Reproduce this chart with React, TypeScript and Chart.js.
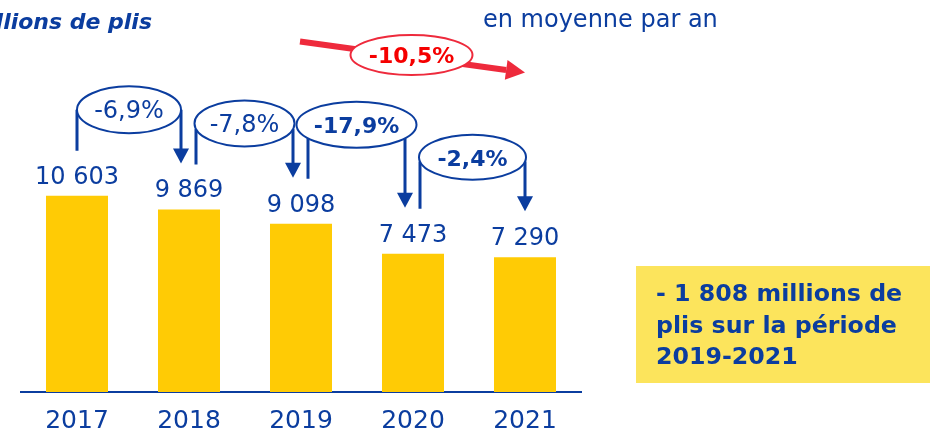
import React, { useEffect, useRef } from 'react';
import { Chart, registerables } from 'chart.js';

Chart.register(...registerables);

// ---- data ----
const years = ['2017', '2018', '2019', '2020', '2021'];
const volumes = [10603, 9869, 9098, 7473, 7290];
const changeLabels = ['-6,9%', '-7,8%', '-17,9%', '-2,4%'];
const changeBold = [false, false, true, true];
const averageLabel = '-10,5%';
const averageText = 'en moyenne par an';
const unitTitle = 'En millions de plis';
const boxLines = ['- 1 808 millions de', 'plis sur la période', '2019-2021'];

// ---- styles ----
const BLUE = '#0B3D9F';
const RED_LINE = '#EE2A3C';
const RED_TEXT = '#F50000';
const BAR = '#FFCB05';
const BOX = '#FCE45C';
const FONT = '"DejaVu Sans", sans-serif';

// annotation geometry (offsets relative to bar positions)
const arrowShiftLeft = [0, 7, 7, 7];
const arrowShiftRight = [-8, -8, -8, 0];
const ellipseRise = [86, 86, 99, 96.5];
const ellipseRx = [52, 50, 60, 53.5];
const ellipseRy = [23.5, 23, 23, 22.5];

const fmt = (v: number) => String(v).replace(/\B(?=(\d{3})+(?!\d))/g, ' ');

function arrowHeadDown(ctx: CanvasRenderingContext2D, x: number, tipY: number, w: number, h: number) {
  ctx.beginPath();
  ctx.moveTo(x - w / 2, tipY - h);
  ctx.lineTo(x + w / 2, tipY - h);
  ctx.lineTo(x, tipY);
  ctx.closePath();
  ctx.fill();
}

const annotationPlugin = {
  id: 'annotations',
  afterDraw(chart: any) {
    const ctx: CanvasRenderingContext2D = chart.ctx;
    const bars = chart.getDatasetMeta(0).data;
    ctx.save();

    // value labels
    ctx.fillStyle = BLUE;
    ctx.font = `24px ${FONT}`;
    ctx.textAlign = 'center';
    ctx.textBaseline = 'alphabetic';
    bars.forEach((b: any, i: number) => {
      ctx.fillText(fmt(volumes[i]), b.x, b.y - 12);
    });

    // blue change arrows
    for (let i = 0; i < changeLabels.length; i++) {
      const a = bars[i];
      const b = bars[i + 1];
      const lx = a.x + arrowShiftLeft[i];
      const rx = b.x + arrowShiftRight[i];
      const cx = (lx + rx) / 2;
      const cy = a.y - ellipseRise[i];
      const erx = ellipseRx[i];
      const ery = ellipseRy[i];
      const meet = (x: number) => {
        const t = (x - cx) / erx;
        return cy + ery * Math.sqrt(Math.max(0, 1 - t * t));
      };
      const leftBottom = a.y - 45;
      const tip = b.y - 46;
      ctx.strokeStyle = BLUE;
      ctx.fillStyle = BLUE;
      ctx.lineWidth = 3;
      ctx.beginPath();
      ctx.moveTo(lx, leftBottom);
      ctx.lineTo(lx, meet(lx));
      ctx.moveTo(rx, meet(rx));
      ctx.lineTo(rx, tip - 14);
      ctx.stroke();
      arrowHeadDown(ctx, rx, tip, 16, 15);

      ctx.beginPath();
      ctx.ellipse(cx, cy, erx, ery, 0, 0, Math.PI * 2);
      ctx.fillStyle = '#FFFFFF';
      ctx.fill();
      ctx.lineWidth = 2;
      ctx.strokeStyle = BLUE;
      ctx.stroke();

      ctx.fillStyle = BLUE;
      ctx.font = changeBold[i] ? `bold 22px ${FONT}` : `24px ${FONT}`;
      ctx.textAlign = 'center';
      ctx.textBaseline = 'alphabetic';
      ctx.fillText(changeLabels[i], cx, cy + 8.5);
    }

    // red average arrow
    const x0 = 300, y0 = 41.5, x1 = 525, y1 = 72.5;
    const ang = Math.atan2(y1 - y0, x1 - x0);
    const headLen = 19, headHalf = 10;
    const bx = x1 - headLen * Math.cos(ang);
    const by = y1 - headLen * Math.sin(ang);
    ctx.strokeStyle = RED_LINE;
    ctx.fillStyle = RED_LINE;
    ctx.lineWidth = 6;
    ctx.beginPath();
    ctx.moveTo(x0, y0);
    ctx.lineTo(bx, by);
    ctx.stroke();
    ctx.beginPath();
    ctx.moveTo(x1, y1);
    ctx.lineTo(bx + headHalf * Math.sin(ang), by - headHalf * Math.cos(ang));
    ctx.lineTo(bx - headHalf * Math.sin(ang), by + headHalf * Math.cos(ang));
    ctx.closePath();
    ctx.fill();
    ctx.beginPath();
    ctx.ellipse(411.5, 55, 61, 20, 0, 0, Math.PI * 2);
    ctx.fillStyle = '#FFFFFF';
    ctx.fill();
    ctx.lineWidth = 2;
    ctx.strokeStyle = RED_LINE;
    ctx.stroke();
    ctx.fillStyle = RED_TEXT;
    ctx.font = `bold 22px ${FONT}`;
    ctx.textAlign = 'center';
    ctx.fillText(averageLabel, 411.5, 63);

    // texts
    ctx.fillStyle = BLUE;
    ctx.font = `24px ${FONT}`;
    ctx.textAlign = 'left';
    ctx.fillText(averageText, 483, 27);

    ctx.font = `italic bold 22px ${FONT}`;
    ctx.textAlign = 'right';
    ctx.fillText(unitTitle, 152, 29);

    // summary box
    ctx.fillStyle = BOX;
    ctx.fillRect(636, 266, 294, 117);
    ctx.fillStyle = BLUE;
    ctx.font = `bold 23.7px ${FONT}`;
    ctx.textAlign = 'left';
    boxLines.forEach((t, i) => ctx.fillText(t, 656, 301 + i * 31.5));

    ctx.restore();
  },
};

export default function App() {
  const ref = useRef<HTMLCanvasElement>(null);
  useEffect(() => {
    if (!ref.current) return;
    const chart = new Chart(ref.current, {
      type: 'bar',
      data: {
        labels: years,
        datasets: [
          {
            data: volumes,
            backgroundColor: BAR,
            borderWidth: 0,
            categoryPercentage: 1,
            barPercentage: 0.5536,
          },
        ],
      },
      options: {
        responsive: false,
        devicePixelRatio: 1,
        animation: false,
        layout: { padding: { left: 21, right: 349, top: 22, bottom: 0 } },
        plugins: { legend: { display: false }, tooltip: { enabled: false }, title: { display: false } },
        scales: {
          x: {
            grid: { display: false, drawTicks: false },
            border: { display: true, color: BLUE, width: 2 },
            ticks: { color: BLUE, font: { family: FONT, size: 25 }, padding: 14, maxRotation: 0 },
            afterFit: (scale: any) => {
              scale.height = 41;
            },
          },
          y: {
            display: false,
            min: 0,
            max: 20000,
          },
        },
      },
      plugins: [annotationPlugin],
    });
    return () => chart.destroy();
  }, []);
  return (
    <div style={{ position: 'absolute', left: 0, top: 0, width: 930, height: 433, background: '#fff' }}>
      <canvas ref={ref} width={930} height={433} style={{ display: 'block', width: 930, height: 433 }} />
    </div>
  );
}
